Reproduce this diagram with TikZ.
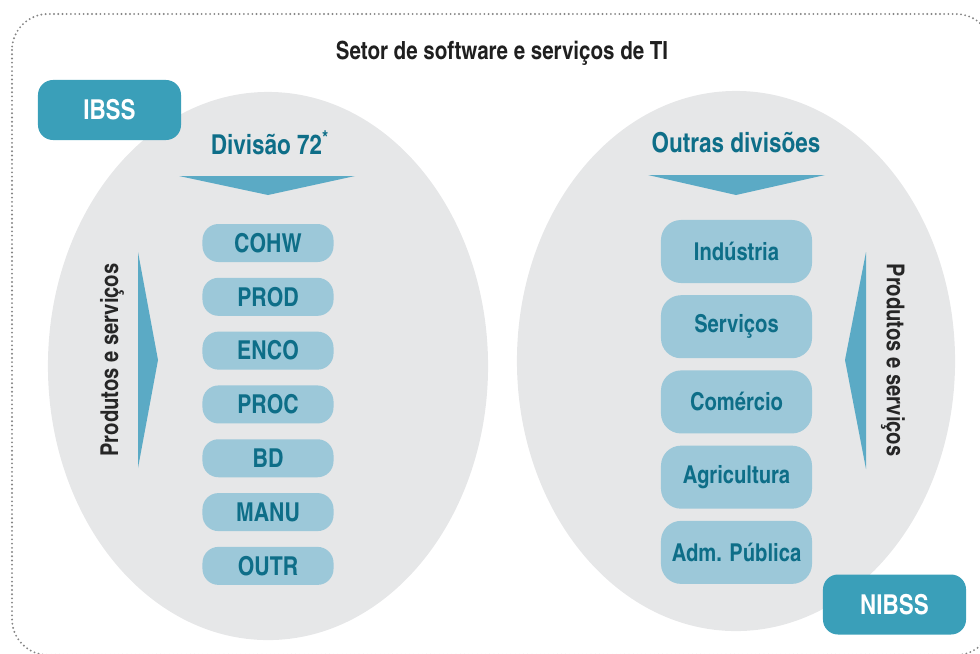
\documentclass[tikz,border=0pt]{standalone}
\usepackage{fontspec}
\setmainfont{texgyreheroscn-bold.otf}
\usetikzlibrary{positioning}
\definecolor{ovalgray}{HTML}{E6E7E8}
\definecolor{tagblue}{HTML}{3A9FB9}
\definecolor{boxblue}{HTML}{9CC8D9}
\definecolor{pointblue}{HTML}{5BAAC5}
\definecolor{darkteal}{HTML}{0E6E88}
\definecolor{framegray}{HTML}{858585}

\begin{document}
\begin{tikzpicture}[
  x=0.025cm, y=-0.025cm,
  oval/.style={fill=ovalgray},
  pointer/.style={fill=pointblue},
  tag/.style={rounded corners=0.375cm, fill=tagblue, text=white,
    minimum width=3.575cm, minimum height=1.5cm, inner sep=0pt,
    font=\fontsize{19.5}{22}\selectfont},
  head/.style={text=darkteal, font=\fontsize{19.5}{22}\selectfont},
  lbox/.style={rounded corners=0.4cm, fill=boxblue, text=darkteal,
    minimum width=3.275cm, minimum height=0.95cm, inner sep=0pt, on grid,
    font=\fontsize{18.5}{22}\selectfont},
  rbox/.style={rounded corners=0.5cm, fill=boxblue, text=darkteal,
    minimum width=3.775cm, minimum height=1.575cm, inner sep=0pt, on grid,
    font=\fontsize{17.5}{21}\selectfont},
  side/.style={font=\fontsize{17.5}{21}\selectfont, text=black!85}
]
\useasboundingbox (0,0) rectangle (980,653);

% frame and ovals
\draw[framegray, line width=1.5pt, line cap=round, dash pattern=on 0pt off 3pt,
  rounded corners=0.9cm] (12,14) rectangle (992,655);
\fill[oval] (268,366) ellipse [x radius=5.5cm, y radius=6.85cm];
\fill[oval] (736,361) ellipse [x radius=5.475cm, y radius=6.75cm];

\node[font=\fontsize{17.8}{21}\selectfont, text=black!88] (title) at (502,53) {Setor de software e serviços de TI};

\node[tag] (ibss) at (109.5,110) {IBSS};
\node[tag] (nibss) at (894.5,604.5) {NIBSS};

% left side
\node[head] (div) at (270,143) {Divisão 72\textsuperscript{*}};
\fill[pointer] (179,176) -- (355,176) -- (268,195) -- cycle;

\node[lbox] (cohw) at (268,243) {COHW};
\node[lbox, below=1.345cm of cohw] (prod) {PROD};
\node[lbox, below=1.345cm of prod] (enco) {ENCO};
\node[lbox, below=1.345cm of enco] (proc) {PROC};
\node[lbox, below=1.345cm of proc] (bd) {BD};
\node[lbox, below=1.345cm of bd] (manu) {MANU};
\node[lbox, below=1.345cm of manu] (outr) {OUTR};

\fill[pointer] (138,252) -- (158,360) -- (138,468) -- cycle;
\node[side, rotate=90] (lprod) at (112,360) {Produtos e serviços};

% right side
\node[head] (outras) at (736,143) {Outras divisões};
\fill[pointer] (648,175) -- (825,175) -- (736,195) -- cycle;

\node[rbox] (ind) at (736.5,251.5) {Indústria};
\node[rbox, below=1.88cm of ind] (serv) {Serviços};
\node[rbox, below=1.88cm of serv] (com) {Comércio};
\node[rbox, below=1.88cm of com] (agr) {Agricultura};
\node[rbox, below=1.88cm of agr] (adm) {Adm. Pública};

\fill[pointer] (866,252) -- (845,360) -- (866,469) -- cycle;
\node[side, rotate=-90] (rprod) at (893,360) {Produtos e serviços};
\end{tikzpicture}
\end{document}
